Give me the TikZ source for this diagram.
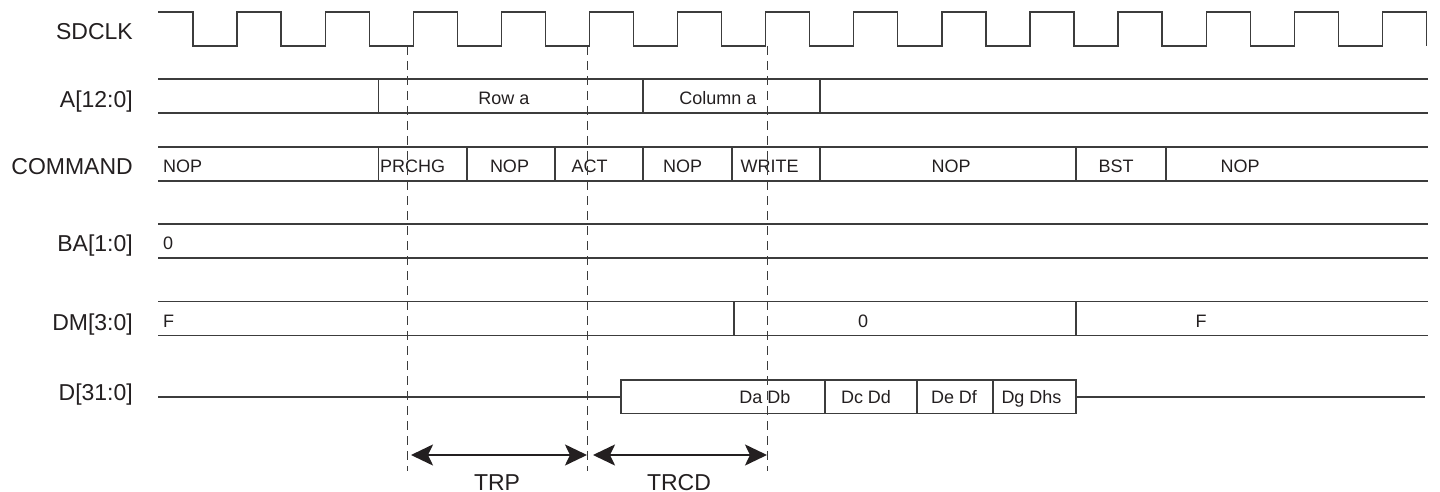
\documentclass[tikz,border=0pt]{standalone}
\usepackage{fontspec}
\setmainfont{Liberation Sans}
\usetikzlibrary{arrows.meta}
\definecolor{ink}{RGB}{35,31,32}
\definecolor{wire}{RGB}{60,60,60}
\begin{document}
\begin{tikzpicture}[x=1pt,y=-1pt,
  sig/.style={draw=wire,line width=1.3pt,line join=miter},
  lbl/.style={anchor=base east,inner sep=0pt,font=\fontsize{23}{26}\selectfont,text=ink},
  val/.style={anchor=base,inner sep=0pt,font=\fontsize{18}{21}\selectfont,text=ink},
  valw/.style={val,anchor=base west},
  guide/.style={draw=wire,line width=1pt,dash pattern=on 9pt off 6pt},
  timespan/.style={draw=ink,line width=2.2pt,{Stealth[length=22pt,width=21pt,inset=5pt]}-{Stealth[length=22pt,width=21pt,inset=5pt]}},
]
\useasboundingbox (0,0) rectangle (1440,492);

% ---- row labels
\node[lbl] (lsdclk) at (133,40) {SDCLK};
\node[lbl] (la) at (133,108) {A[12:0]};
\node[lbl] (lcmd) at (133,175) {COMMAND};
\node[lbl] (lba) at (133,251.5) {BA[1:0]};
\node[lbl] (ldm) at (133,330) {DM[3:0]};
\node[lbl] (ld) at (133,400) {D[31:0]};

% ---- clock
\draw[sig] (158,12) foreach \k in {0,...,13} { -- ({193+88.1*\k},12) -- ({193+88.1*\k},46) -- ({237.05+88.1*\k},46) -- ({237.05+88.1*\k},12) } -- (1426.4,12) -- (1426.4,46);

% ---- A[12:0]
\draw[sig] (158,79) -- (1428,79) (158,113) -- (1428,113);
\foreach \x in {378.6,643,820} \draw[sig] (\x,79) -- (\x,113);
\node[val] (rowa) at (504,104.5) {Row a};
\node[val] (cola) at (718,104.5) {Column a};

% ---- COMMAND
\draw[sig] (158,147) -- (1428,147) (158,181) -- (1428,181);
\foreach \x in {378.6,467,555,643,732,820,1076,1166} \draw[sig] (\x,147) -- (\x,181);
\node[valw] (c1) at (163,172.5) {NOP};
\node[valw] (c2) at (380,172.5) {PRCHG};
\node[val] (c3) at (509.5,172.5) {NOP};
\node[val] (c4) at (589.5,172.5) {ACT};
\node[val] (c5) at (682.5,172.5) {NOP};
\node[val] (c6) at (769.5,172.5) {WRITE};
\node[val] (c7) at (951,172.5) {NOP};
\node[val] (c8) at (1116,172.5) {BST};
\node[val] (c9) at (1240,172.5) {NOP};

% ---- BA[1:0]
\draw[sig] (158,224) -- (1428,224) (158,258) -- (1428,258);
\node[valw] (b1) at (163,249.5) {0};

% ---- DM[3:0]
\draw[sig] (158,301.5) -- (1428,301.5) (158,335.5) -- (1428,335.5);
\foreach \x in {734,1076} \draw[sig] (\x,301.5) -- (\x,335.5);
\node[valw] (m1) at (163,327) {F};
\node[val] (m2) at (863,327) {0};
\node[val] (m3) at (1201,327) {F};

% ---- D[31:0]
\draw[sig] (158,397) -- (621,397) (1076,397) -- (1425,397);
\draw[sig] (621,380) rectangle (1076,413.5);
\foreach \x in {825,917,993} \draw[sig] (\x,380) -- (\x,413.5);
\node[val] (d1) at (765,403.5) {Da Db};
\node[val] (d2) at (866,403.5) {Dc Dd};
\node[val] (d3) at (954,403.5) {De Df};
\node[val] (d4) at (1031.5,403.5) {Dg Dhs};

% ---- guides
\foreach \i/\x in {1/407,2/587,3/767} {
  \coordinate (g\i t) at (\x,46);
  \coordinate (g\i b) at (\x,471);
  \coordinate (g\i a) at (\x,455);
  \draw[guide] (g\i t) -- (g\i b);
}

% ---- timing spans
\draw[timespan] ([xshift=4pt]g1a) -- (g2a);
\draw[timespan] ([xshift=6pt]g2a) -- (g3a);
\node[lbl,anchor=base] (trp) at (497,490) {TRP};
\node[lbl,anchor=base] (trcd) at (679,490) {TRCD};
\end{tikzpicture}
\end{document}
